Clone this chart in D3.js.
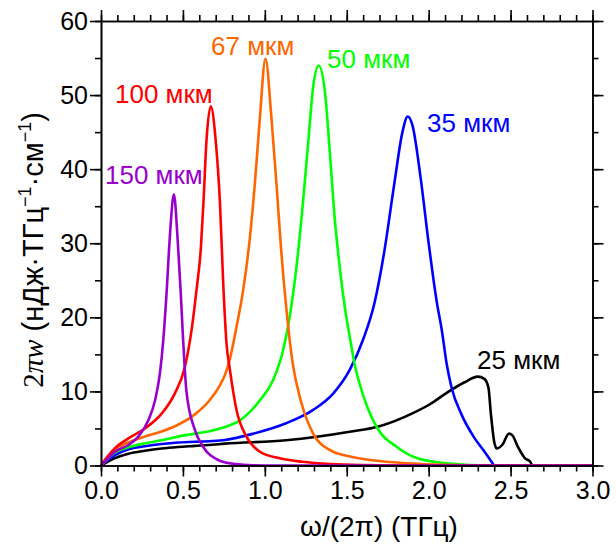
<!DOCTYPE html>
<html>
<head>
<meta charset="utf-8">
<script src="https://cdn.jsdelivr.net/npm/d3@7"></script>
<style>
  html, body { margin: 0; padding: 0; background: #fff; }
  svg { display: block; }
  text { font-family: "Liberation Sans", Arial, sans-serif; }
</style>
</head>
<body>
<svg id="chart" width="616" height="544"></svg>
<script>
// ---- data (x in THz, y in nJ·THz^-1·cm^-1) ----
const s150 = [[0,0],[0.04,0.9],[0.085,1.86],[0.167,2.76],[0.228,3.9],[0.289,6.1],[0.33,8.8],[0.36,12.5],[0.38,16.9],[0.40,23.2],[0.42,30.8],[0.445,36.6],[0.467,30.8],[0.487,23.2],[0.50,17.5],[0.522,9.9],[0.573,4.8],[0.624,2.5],[0.715,0.74],[0.8,0.25],[0.9,0.05],[1.0,0],[3.0,0]];
const s100 = [[0,0],[0.04,1.2],[0.085,2.35],[0.167,3.66],[0.268,5.0],[0.37,7.0],[0.45,9.7],[0.512,13.3],[0.553,18.3],[0.583,23.7],[0.61,29.5],[0.626,35.8],[0.644,43.9],[0.67,48.5],[0.70,43.9],[0.726,35.5],[0.746,24.6],[0.766,16.5],[0.787,12.9],[0.827,7.5],[0.888,3.9],[0.97,1.86],[1.09,0.97],[1.23,0.5],[1.4,0.2],[1.6,0.05],[1.8,0],[3.0,0]];
const s67 = [[0,0],[0.04,1.1],[0.085,2.2],[0.167,3.1],[0.268,3.9],[0.37,4.6],[0.47,5.5],[0.573,6.9],[0.655,8.6],[0.72,10.6],[0.756,12.2],[0.787,14.4],[0.827,18.7],[0.868,23.7],[0.909,30.8],[0.939,38.0],[0.97,47.0],[1.004,54.9],[1.04,47.0],[1.071,38.0],[1.10,29.0],[1.132,21.0],[1.17,13.8],[1.224,8.4],[1.295,4.3],[1.396,2.1],[1.52,1.2],[1.7,0.6],[1.9,0.25],[2.1,0.08],[2.3,0],[3.0,0]];
const s50 = [[0,0],[0.04,0.9],[0.085,1.73],[0.167,2.45],[0.268,3.0],[0.37,3.4],[0.47,3.9],[0.573,4.3],[0.675,4.7],[0.756,5.2],[0.848,6.1],[0.97,8.8],[1.05,11.5],[1.112,15.6],[1.152,20.1],[1.193,26.8],[1.234,35.8],[1.264,43.4],[1.295,51.1],[1.329,54.0],[1.366,50.6],[1.396,42.5],[1.426,33.5],[1.457,26.8],[1.488,21.4],[1.518,17.4],[1.55,13.5],[1.6,9.5],[1.65,6.6],[1.70,4.6],[1.80,2.6],[1.91,1.15],[2.11,0.3],[2.38,0],[3.0,0]];
const s35 = [[0,0],[0.04,0.7],[0.085,1.4],[0.167,2.2],[0.268,2.6],[0.37,2.9],[0.47,3.1],[0.573,3.2],[0.675,3.3],[0.756,3.45],[0.93,4.3],[1.13,5.7],[1.295,7.5],[1.417,9.7],[1.518,12.9],[1.6,17],[1.67,22],[1.73,29],[1.79,38],[1.84,45],[1.872,47.1],[1.9,46],[1.95,39],[2.0,30],[2.05,22],[2.08,18.3],[2.11,13.7],[2.14,10.5],[2.2,6.9],[2.28,3.7],[2.34,1.9],[2.39,0.3],[2.40,0],[3.0,0]];
const s25 = [[0,0],[0.04,0.5],[0.085,1.0],[0.167,1.6],[0.268,2.0],[0.37,2.3],[0.47,2.5],[0.573,2.65],[0.675,2.8],[0.756,2.95],[1.13,3.4],[1.518,4.55],[1.70,5.3],[1.907,7.1],[2.01,8.3],[2.11,9.8],[2.216,11.2],[2.30,12.0],[2.34,11.7],[2.365,10.5],[2.38,6.9],[2.40,3.2],[2.415,2.3],[2.45,2.8],[2.49,4.3],[2.51,4.1],[2.545,2.5],[2.587,1.0],[2.62,0.5],[2.635,0],[3.0,0]];

const seriesNames = ["25 мкм","35 мкм","50 мкм","67 мкм","100 мкм","150 мкм"];
const seriesData = [s25, s35, s50, s67, s100, s150];
const seriesColors = ["#000000","#0000ff","#00ff00","#ff6600","#ff0000","#9900cc"];
const labelPos = [[477,369],[427,132],[327,68],[211,55],[115,103],[105,184]];

const xMajor = [0,0.5,1.0,1.5,2.0,2.5,3.0];
const xMinor = d3.range(0, 3.0001, 0.1);
const yMajor = [0,10,20,30,40,50,60];
const yMinor = d3.range(0, 60.001, 5);

// ---- layout ----
const svg = d3.select("#chart");
const x = d3.scaleLinear().domain([0,3]).range([101, 592.5]);
const y = d3.scaleLinear().domain([0,60]).range([465.5, 21]);

// curves
const line = d3.line().x(d => x(d[0])).y(d => y(d[1])).curve(d3.curveMonotoneX);
seriesData.forEach((s, i) => {
  svg.append("path").datum(s)
    .attr("d", line)
    .attr("fill", "none")
    .attr("stroke", seriesColors[i])
    .attr("stroke-width", 2.6)
    .attr("stroke-linejoin", "round");
});

// axes
function styleAxis(g) {
  g.selectAll("path.domain").attr("stroke", "#000").attr("stroke-width", 1.6);
  g.selectAll(".tick line").attr("stroke", "#000").attr("stroke-width", 1.6);
}
const fs = 25;
// bottom
svg.append("g").attr("transform", `translate(0,${y(0)})`)
  .call(d3.axisBottom(x).tickValues(xMinor).tickSize(6).tickSizeOuter(0).tickFormat(""))
  .call(styleAxis);
const gb = svg.append("g").attr("transform", `translate(0,${y(0)})`)
  .call(d3.axisBottom(x).tickValues(xMajor).tickSize(11).tickSizeOuter(0).tickPadding(5).tickFormat(d3.format(".1f")))
  .call(styleAxis);
gb.selectAll("text").attr("font-size", fs).attr("fill", "#000").attr("font-family", "Liberation Sans, Arial, sans-serif");
// top
svg.append("g").attr("transform", `translate(0,${y(60)})`)
  .call(d3.axisTop(x).tickValues(xMinor).tickSize(6).tickSizeOuter(0).tickFormat(""))
  .call(styleAxis);
svg.append("g").attr("transform", `translate(0,${y(60)})`)
  .call(d3.axisTop(x).tickValues(xMajor).tickSize(11).tickSizeOuter(0).tickFormat(""))
  .call(styleAxis);
// left
svg.append("g").attr("transform", `translate(${x(0)},0)`)
  .call(d3.axisLeft(y).tickValues(yMinor).tickSize(6).tickSizeOuter(0).tickFormat(""))
  .call(styleAxis);
const gl = svg.append("g").attr("transform", `translate(${x(0)},0)`)
  .call(d3.axisLeft(y).tickValues(yMajor).tickSize(11).tickSizeOuter(0).tickPadding(2).tickFormat(d3.format("d")))
  .call(styleAxis);
gl.selectAll("text").attr("font-size", fs).attr("fill", "#000").attr("font-family", "Liberation Sans, Arial, sans-serif");
// right
svg.append("g").attr("transform", `translate(${x(3)},0)`)
  .call(d3.axisRight(y).tickValues(yMinor).tickSize(6).tickSizeOuter(0).tickFormat(""))
  .call(styleAxis);
svg.append("g").attr("transform", `translate(${x(3)},0)`)
  .call(d3.axisRight(y).tickValues(yMajor).tickSize(11).tickSizeOuter(0).tickFormat(""))
  .call(styleAxis);

// series labels
seriesNames.forEach((n, i) => {
  svg.append("text").attr("x", labelPos[i][0]).attr("y", labelPos[i][1])
    .attr("font-size", 26).attr("fill", seriesColors[i]).text(n);
});

// x title
svg.append("text").attr("x", 379).attr("y", 536).attr("text-anchor", "middle")
  .attr("font-size", 28).attr("fill", "#000").text("ω/(2π) (ТГц)");

// y title
const yt = svg.append("text").attr("transform", "translate(43,250) rotate(-90)")
  .attr("text-anchor", "middle").attr("font-size", 29).attr("fill", "#000");
yt.append("tspan").attr("font-family", "Liberation Serif, Times New Roman, serif").text("2");
yt.append("tspan").attr("font-family", "Liberation Serif, Times New Roman, serif").attr("font-style", "italic").text("πw");
yt.append("tspan").text(" (нДж·ТГц");
yt.append("tspan").attr("font-size", 18).attr("dy", -12).text("−1");
yt.append("tspan").attr("dy", 12).text("·см");
yt.append("tspan").attr("font-size", 18).attr("dy", -12).text("−1");
yt.append("tspan").attr("dy", 12).text(")");
</script>
</body>
</html>
